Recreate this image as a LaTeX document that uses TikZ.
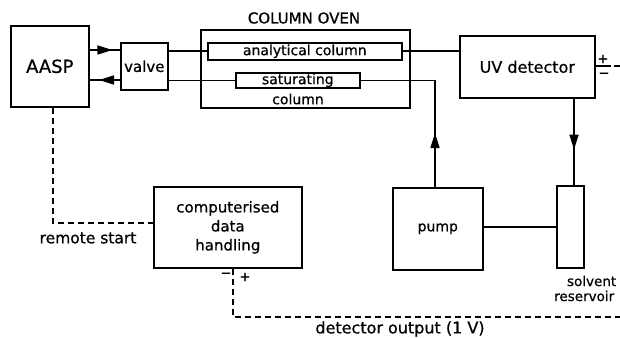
\documentclass[tikz,border=0pt]{standalone}
\usepackage{fontspec}
\setmainfont{DejaVu Sans}[BoldFont={DejaVu Sans},BoldFeatures={FakeBold=0.7}]
\usetikzlibrary{arrows.meta,decorations.markings}

\begin{document}
\begin{tikzpicture}[x=1pt,y=-1pt,line width=1.6pt,
  box/.style={draw,inner sep=0pt,anchor=north west,font=\bfseries\fontsize{15}{19}\selectfont,align=center},
  lbl/.style={inner sep=0pt,font=\bfseries\fontsize{15}{19}\selectfont,align=center},
  sig/.style={dash pattern=on 6pt off 4pt},
  tipat/.style={postaction={decorate},
    decoration={markings,mark=at position #1 with {\arrow{Triangle[length=15pt,width=9pt]}}}}]
\useasboundingbox (0,0) rectangle (620,337);

% main units
\node[box,minimum width=78pt,minimum height=81pt,font=\bfseries\fontsize{18}{20}\selectfont] (aasp) at (10,25) {AASP};
\node[box,minimum width=47pt,minimum height=47pt] (valve) at (120,42) {valve};
\node[box,minimum width=209pt,minimum height=78pt] (oven) at (200,29) {};
\node[lbl] (oventitle) at (304,18) {COLUMN OVEN};
\node[box,minimum width=194pt,minimum height=17pt,font=\bfseries\fontsize{14}{16}\selectfont] (anal) at (207,42) {analytical column};
\node[box,minimum width=124pt,minimum height=15pt,font=\bfseries\fontsize{14}{16}\selectfont] (sat) at (235,72) {saturating};
\node[lbl,font=\bfseries\fontsize{14}{16}\selectfont] (satlbl) at (298,99) {column};
\node[box,minimum width=135pt,minimum height=62pt,font=\bfseries\fontsize{16}{19}\selectfont] (uv) at (459,35) {UV detector};
\node[box,minimum width=90pt,minimum height=82pt,font=\bfseries\fontsize{14}{16}\selectfont] (pump) at (392,187) {pump};
\node[box,minimum width=27pt,minimum height=82pt] (res) at (556,185) {};
\node[lbl,font=\bfseries\fontsize{13.5}{15}\selectfont,anchor=east] (reslbl1) at (617,281) {solvent};
\node[lbl,font=\bfseries\fontsize{13.5}{15}\selectfont,anchor=east] (reslbl2) at (615,296) {reservoir};
\node[box,minimum width=148pt,minimum height=81pt] (data) at (153,186) {computerised\\data\\handling};

% terminals
\node[lbl,font=\bfseries\fontsize{13}{14}\selectfont] (uvplus) at (603,59) {+};
\node[lbl,font=\bfseries\fontsize{13}{14}\selectfont] (uvminus) at (604,75) {−};
\node[lbl,font=\bfseries\fontsize{13}{14}\selectfont] (dminus) at (226,275) {−};
\node[lbl,font=\bfseries\fontsize{13}{14}\selectfont] (dplus) at (245,277) {+};

% liquid flow
\draw[tipat=0.75] (aasp.east |- 0,50) -- (valve.west |- 0,50);
\draw[tipat=0.69] (valve.west |- 0,80) -- (aasp.east |- 0,80);
\draw (valve.east |- anal.west) -- (anal.west);
\draw (anal.east) -- (uv.west |- anal.east);
\draw (valve.east |- sat.west) -- (sat.west);
\draw[tipat=54pt] (pump.north -| 435,0) |- (sat.east);
\draw[tipat=51pt] (uv.south -| 574,0) -- (res.north -| 574,0);
\draw (pump.east |- 0,227) -- (res.west |- 0,227);

% signal lines
\coordinate (uvout) at (620,66);
\coordinate (dout) at (620,317);
\draw (uv.east |- 0,66) -- (611,66);
\draw[sig] (614,66) -- (uvout);
\draw[sig] (aasp.south -| 53,0) |- (data.west |- 0,223);
\node[lbl,font=\bfseries\fontsize{15.5}{18}\selectfont] (remote) at (88,238) {remote start};
\draw[sig] (data.south -| 233,0) |- (dout);
\node[lbl,font=\bfseries\fontsize{16}{18}\selectfont] (outlbl) at (400,329) {detector output (1 V)};
\end{tikzpicture}
\end{document}
